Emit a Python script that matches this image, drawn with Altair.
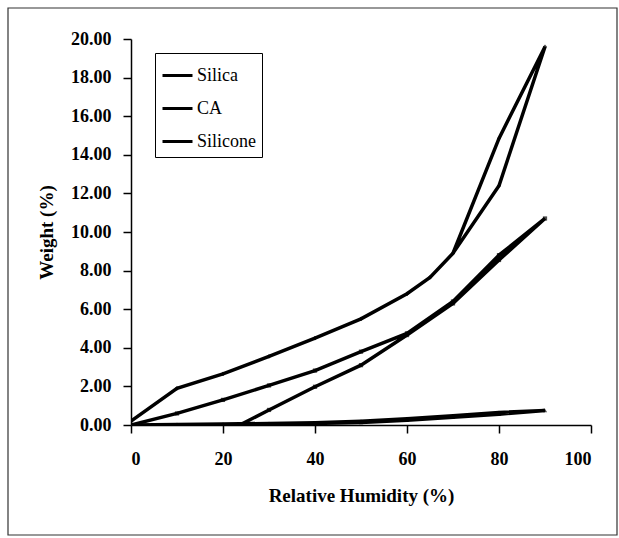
import altair as alt
import pandas as pd

# Silica: adsorption up to 90 % RH, then desorption back down
silica_rh = [0, 10, 20, 30, 40, 50, 60, 65, 70, 80, 90, 80, 70, 65, 60, 50, 40, 30, 20, 10, 0]
silica_w = [0.2, 1.9, 2.65, 3.55, 4.5, 5.5, 6.8, 7.65, 8.9, 12.4, 19.6, 14.85, 8.9, 7.65, 6.8, 5.5, 4.5, 3.55, 2.65, 1.9, 0.2]

# CA
ca_rh = [20, 30, 40, 50, 60, 70, 80, 90, 80, 70, 60, 50, 40, 30, 20, 10, 0]
ca_w = [-0.45, 0.78, 1.98, 3.1, 4.66, 6.3, 8.55, 10.7, 8.8, 6.4, 4.75, 3.8, 2.82, 2.05, 1.3, 0.6, 0.0]

# Silicone
silicone_rh = [0, 10, 20, 30, 40, 50, 60, 70, 80, 90, 80, 70, 60, 50, 40, 30, 20, 10, 0]
silicone_w = [0.0, 0.02, 0.03, 0.05, 0.08, 0.13, 0.25, 0.4, 0.56, 0.75, 0.65, 0.48, 0.33, 0.2, 0.12, 0.08, 0.05, 0.03, 0.0]

series_names = ["Silica", "CA", "Silicone"]
marker_shapes = ["diamond", "square", "triangle-up"]
x_ticks = [0, 20, 40, 60, 80, 100]
y_ticks = [0, 2, 4, 6, 8, 10, 12, 14, 16, 18, 20]

rows = []
for name, xs, ys in [("Silica", silica_rh, silica_w), ("CA", ca_rh, ca_w), ("Silicone", silicone_rh, silicone_w)]:
    for i, (xv, yv) in enumerate(zip(xs, ys)):
        rows.append({"series": name, "rh": xv, "w": yv, "seq": i})
df = pd.DataFrame(rows)

FONT = "Liberation Serif"

x_enc = alt.X("rh:Q", scale=alt.Scale(domain=[0, 100], nice=False, zero=True),
              axis=alt.Axis(values=x_ticks, title="Relative Humidity (%)", format="d",
                            grid=False, tickSize=8, labelPadding=17, titlePadding=18))
y_enc = alt.Y("w:Q", scale=alt.Scale(domain=[0, 20], nice=False),
              axis=alt.Axis(values=y_ticks, title="Weight (%)", format=".2f",
                            grid=False, tickSize=8, labelPadding=12, titlePadding=14,
                            labelOverlap=False))

base = alt.Chart(df).encode(x=x_enc, y=y_enc)

lines = base.mark_line(strokeWidth=3.5, clip=True).encode(
    color=alt.Color("series:N", sort=series_names,
                    scale=alt.Scale(domain=series_names, range=["black", "black", "black"]),
                    legend=alt.Legend(title=None, orient="none", legendX=24, legendY=14,
                                      symbolType="stroke", symbolSize=900, symbolStrokeWidth=3,
                                      labelFont=FONT, labelFontSize=18, labelColor="black",
                                      rowPadding=7, padding=6, strokeColor="black",
                                      fillColor="white", labelLimit=200, labelOffset=3)),
    detail="series:N", order="seq:Q"
)

point_layers = [
    base.mark_point(filled=True, size=18, clip=True, color="black", shape=shp)
        .transform_filter(alt.datum.series == name)
    for name, shp in zip(series_names, marker_shapes)
]

frame = alt.Chart(pd.DataFrame({"a": [0]})).mark_rect(fill=None, stroke="#333333", strokeWidth=1.2).encode(
    x=alt.value(-123), x2=alt.value(486), y=alt.value(-31), y2=alt.value(496)
)

chart = alt.layer(frame, lines, *point_layers).properties(
    width=460, height=386,
    autosize=alt.AutoSizeParams(type="none"),
    padding={"left": 131, "top": 39, "right": 28, "bottom": 113},
    background="white"
).configure_view(stroke=None).configure_axis(
    domainColor="black", domainWidth=1.5, tickColor="black", tickWidth=1.5,
    labelFont=FONT, labelFontSize=18, labelFontWeight="bold", labelColor="black",
    titleFont=FONT, titleFontSize=19, titleFontWeight="bold", titleColor="black",
    labelOverlap=False
)

chart.save("out.html", embed_options={"renderer": "svg", "actions": False})
